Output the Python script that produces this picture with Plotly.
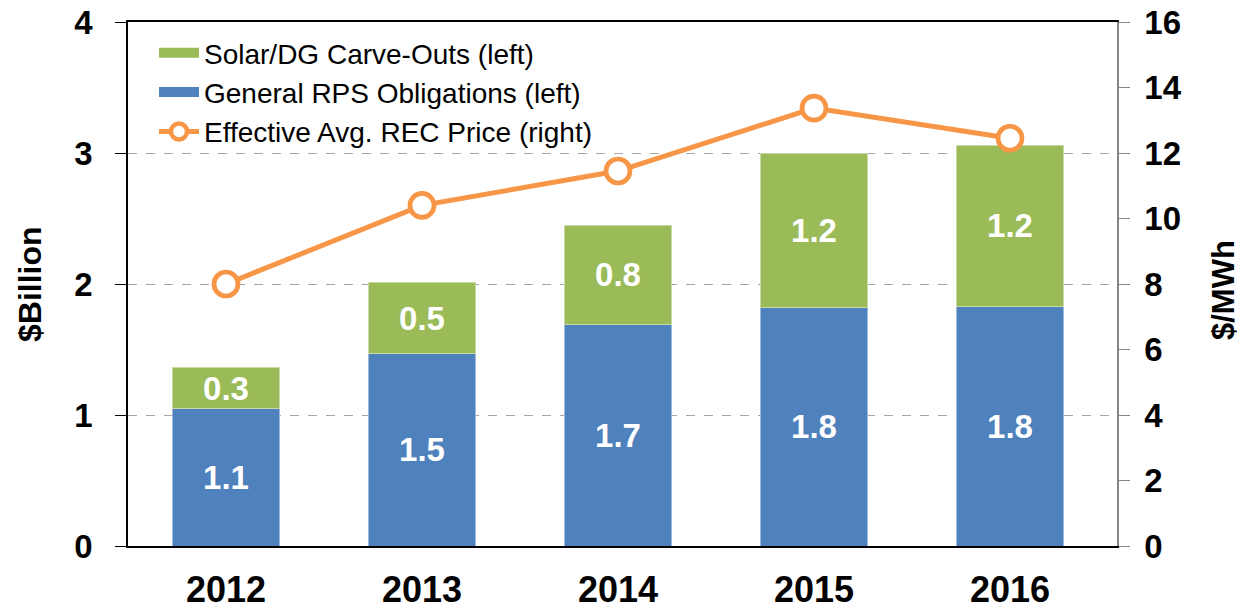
import plotly.graph_objects as go

years = ["2012", "2013", "2014", "2015", "2016"]
general = [1.05, 1.47, 1.69, 1.82, 1.83]
solar = [0.31, 0.54, 0.76, 1.18, 1.23]
rec_price = [8.0, 10.4, 11.45, 13.37, 12.45]

FONT = "Liberation Sans, Arial, sans-serif"
BLUE = "#4F81BD"
GREEN = "#9BBB59"
ORANGE = "#F79646"

L, R, T, B = 128, 126, 22, 64
W, H = 1243, 610
PW, PH = W - L - R, H - T - B

def px_x(x):
    return (x - L) / PW

def px_y(y):
    return (H - B - y) / PH

label_font = dict(family=FONT, size=33, color="white", weight="bold")

fig = go.Figure()
fig.add_trace(go.Bar(
    x=years, y=general, name="General RPS Obligations (left)",
    marker=dict(color=BLUE, line=dict(color="#9DB9DD", width=1)),
    text=[f"{v:.1f}" for v in general], textposition="inside",
    insidetextanchor="middle", textangle=0, constraintext="none",
    textfont=label_font, width=0.55, showlegend=False,
))
fig.add_trace(go.Bar(
    x=years, y=solar, name="Solar/DG Carve-Outs (left)",
    marker=dict(color=GREEN, line=dict(color="#C8DBA6", width=1)),
    text=[f"{v:.1f}" for v in solar], textposition="inside",
    insidetextanchor="middle", textangle=0, constraintext="none",
    textfont=label_font, width=0.55, showlegend=False,
))
fig.add_trace(go.Scatter(
    x=years, y=rec_price, name="Effective Avg. REC Price (right)", yaxis="y2",
    mode="lines+markers",
    line=dict(color=ORANGE, width=5),
    marker=dict(symbol="circle", size=24, color="white", line=dict(color=ORANGE, width=4.7)),
    showlegend=False,
))
# legend entries (no marks of their own)
fig.add_trace(go.Scatter(x=[None], y=[None], mode="lines", name="Solar/DG Carve-Outs (left)",
                         line=dict(color=GREEN, width=16), legendrank=1))
fig.add_trace(go.Scatter(x=[None], y=[None], mode="lines", name="General RPS Obligations (left)",
                         line=dict(color=BLUE, width=16), legendrank=2))
fig.add_trace(go.Scatter(x=[None], y=[None], mode="lines+markers", name="Effective Avg. REC Price (right)",
                         line=dict(color=ORANGE, width=5),
                         marker=dict(symbol="circle", size=20, color="white", line=dict(color=ORANGE, width=4.5)),
                         legendrank=3))

fig.update_layout(
    width=W, height=H,
    margin=dict(l=L, r=R, t=T, b=B, autoexpand=False),
    plot_bgcolor="white", paper_bgcolor="white",
    barmode="stack",
    font=dict(family=FONT, color="black"),
    showlegend=True,
    legend=dict(
        x=px_x(154), y=px_y(28), xanchor="left", yanchor="top",
        traceorder="normal", bgcolor="rgba(0,0,0,0)",
        font=dict(family=FONT, size=28, color="black"),
        itemwidth=40, tracegroupgap=0,
    ),
    xaxis=dict(
        type="category", range=[-0.5, 4.546], automargin=False,
        showline=True, linecolor="black", linewidth=2, mirror=True,
        ticks="", ticklabelstandoff=11,
        tickfont=dict(family=FONT, size=36, color="black", weight="bold"),
        showgrid=False,
    ),
    yaxis=dict(
        range=[0, 4], dtick=1, tick0=0, automargin=False,
        showline=True, linecolor="black", linewidth=1.5,
        ticks="outside", ticklen=11, tickcolor="black", tickwidth=1,
        ticklabelstandoff=16,
        tickfont=dict(family=FONT, size=33, color="black", weight="bold"),
        showgrid=True, gridcolor="#A6A6A6", griddash="dash", gridwidth=1,
        zeroline=False,
    ),
    yaxis2=dict(
        range=[0, 16], dtick=2, tick0=0, overlaying="y", side="right", automargin=False,
        showline=True, linecolor="#868686", linewidth=1.5,
        ticks="outside", ticklen=11, tickcolor="#868686", tickwidth=1,
        ticklabelstandoff=8,
        tickfont=dict(family=FONT, size=33, color="black", weight="bold"),
        showgrid=False, zeroline=False,
    ),
    annotations=[
        dict(text="$Billion", xref="paper", yref="paper", x=px_x(30), y=px_y(284),
             xanchor="center", yanchor="middle", textangle=-90, showarrow=False,
             font=dict(family=FONT, size=32, color="black", weight="bold")),
        dict(text="$/MWh", xref="paper", yref="paper", x=px_x(1223), y=px_y(290),
             xanchor="center", yanchor="middle", textangle=-90, showarrow=False,
             font=dict(family=FONT, size=31, color="black", weight="bold")),
    ],
)

fig.write_html("out.html", config={"displayModeBar": False},
               post_script="document.body.style.margin='0px';document.body.style.padding='0px';")
